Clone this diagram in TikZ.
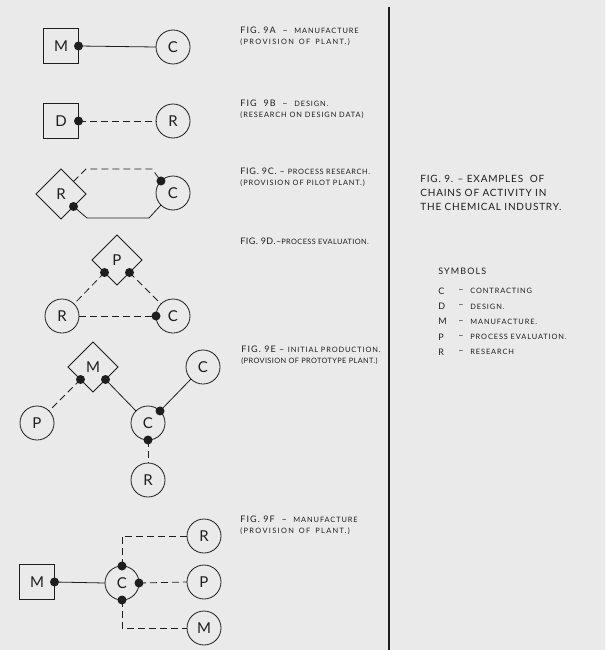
\documentclass[tikz,border=0pt]{standalone}
\usepackage{fontspec}
\setmainfont{Lato}
\newfontfamily\capfont[LetterSpace=12]{Lato}
\newfontfamily\titlefont[LetterSpace=8]{Lato}
\usetikzlibrary{shapes.geometric}
\definecolor{paper}{RGB}{234,234,234}
\definecolor{ink}{RGB}{30,30,30}
\newcommand\smc[1]{{\fontsize{7.4}{10}\selectfont #1}}

\begin{document}
\begin{tikzpicture}[
    x=1pt, y=-1pt, color=ink, line width=0.8pt,
    act/.style={circle, draw, minimum size=34pt, inner sep=0pt, outer sep=0pt, font=\fontsize{15}{15}\selectfont},
    sq/.style={rectangle, draw, minimum size=35pt, inner sep=0pt, outer sep=0pt, font=\fontsize{15}{15}\selectfont},
    dia/.style={diamond, draw, minimum width=50pt, minimum height=50pt, inner sep=0pt, outer sep=0pt, font=\fontsize{15}{15}\selectfont},
    blob/.style={circle, fill, inner sep=0pt, minimum size=9pt},
    soft/.style={dash pattern=on 7pt off 4pt},
    figtext/.style={anchor=north west, align=left, inner sep=0pt, font=\capfont\fontsize{9}{10.5}\selectfont}
]
    \fill[paper] (0,0) rectangle (605,650);
    \useasboundingbox (0,0) rectangle (605,650);
    \draw[line width=1.2pt] (389,7) -- (389,650);

    % fig 9A
    \node[sq] (mA) at (61,46) {M};
    \node[act] (cA) at (173,47) {C};
    \draw (mA.east) -- (cA.west);
    \node[blob] at (mA.east) {};
    \node[figtext] (capA) at (240,27) {FIG. 9A \ – \ \smc{MANUFACTURE}\\\smc{\addfontfeature{LetterSpace=18}(PROVISION\hspace{5pt}OF\hspace{5pt}PLANT.)}};

    % fig 9B
    \node[sq] (dB) at (61,121) {D};
    \node[act] (rB) at (173,121) {R};
    \draw[soft] (dB.east) -- (rB.west);
    \node[blob] at (dB.east) {};
    \node[figtext] (capB) at (240,100) {FIG \ 9B \ – \ \smc{DESIGN.}\\\smc{(RESEARCH ON DESIGN DATA)}};

    % fig 9C
    \node[dia] (rC) at (61,194) {R};
    \node[act] (cC) at (173,193) {C};
    \draw[soft] (rC.north east) -- (86,169) -- (152,169) -- (cC.135);
    \draw (rC.south east) -- (87,218) -- (149,218) -- (cC.225);
    \node[blob] at (rC.south east) {};
    \node[blob] at (cC.135) {};
    \node[figtext] (capC) at (240,168) {\addfontfeature{LetterSpace=8}FIG. 9C. – \smc{PROCESS RESEARCH.}\\\smc{(PROVISION OF PILOT PLANT.)}};

    % fig 9D
    \node[dia] (pD) at (117,260) {P};
    \node[act] (rD) at (62,316) {R};
    \node[act] (cD) at (173,316) {C};
    \draw[soft] (pD.south west) -- (rD.45);
    \draw[soft] (pD.south east) -- (cD.135);
    \draw[soft] (rD.east) -- (cD.west);
    \node[blob] at (pD.south west) {};
    \node[blob] at (pD.south east) {};
    \node[blob] at (cD.west) {};
    \node[figtext] (capD) at (240,238) {\addfontfeature{LetterSpace=5}FIG. 9D.–\smc{PROCESS EVALUATION.}};

    % fig 9E
    \node[dia] (mE) at (93,367) {M};
    \node[act] (cE) at (203,367) {C};
    \node[act] (pE) at (37,423) {P};
    \node[act] (kE) at (148,423) {C};
    \node[act] (rE) at (148,480) {R};
    \draw[soft] (mE.south west) -- (pE.45);
    \draw (mE.south east) -- (kE.135);
    \draw (cE.225) -- (kE.45);
    \draw[soft] (kE.south) -- (rE.north);
    \node[blob] at (mE.south west) {};
    \node[blob] at (mE.south east) {};
    \node[blob] at (kE.45) {};
    \node[blob] at (kE.south) {};
    \node[figtext] (capE) at (241,346) {FIG. 9E – \smc{INITIAL PRODUCTION.}\\\smc{\addfontfeature{LetterSpace=5}(PROVISION OF PROTOTYPE PLANT.)}};

    % fig 9F
    \node[sq] (mF) at (37,582) {M};
    \node[act] (cF) at (122,583) {C};
    \node[act] (rF) at (204,536) {R};
    \node[act] (pF) at (204,582) {P};
    \node[act] (nF) at (204,628) {M};
    \draw (mF.east) -- (cF.west);
    \draw[soft] (cF.north) |- (rF.west);
    \draw[soft] (cF.east) -- (pF.west);
    \draw[soft] (cF.south) |- (nF.west);
    \foreach \a in {north, east, south} \node[blob] at (cF.\a) {};
    \node[blob] at (mF.east) {};
    \node[figtext] (capF) at (240,516) {FIG. 9F \ – \ \smc{MANUFACTURE}\\\smc{\addfontfeature{LetterSpace=18}(PROVISION\hspace{5pt}OF\hspace{5pt}PLANT.)}};

    % title and key
    \node[figtext, font=\titlefont\fontsize{10}{14}\selectfont] (title) at (420,175) {FIG. 9. – EXAMPLES \ OF\\CHAINS OF ACTIVITY IN\\THE CHEMICAL INDUSTRY.};
    \node[figtext] (key) at (438,268) {SYMBOLS};
    \foreach \k/\w [count=\i] in {C/CONTRACTING, D/DESIGN., M/MANUFACTURE., P/PROCESS EVALUATION., R/RESEARCH} {
        \node[figtext, anchor=west] (key\i) at (438,{276+15.25*\i}) {\k};
        \node[figtext, anchor=west] at (458,{276+15.25*\i}) {–};
        \node[figtext, anchor=west] at (470,{276+15.25*\i}) {\smc{\w}};
    }
\end{tikzpicture}
\end{document}
